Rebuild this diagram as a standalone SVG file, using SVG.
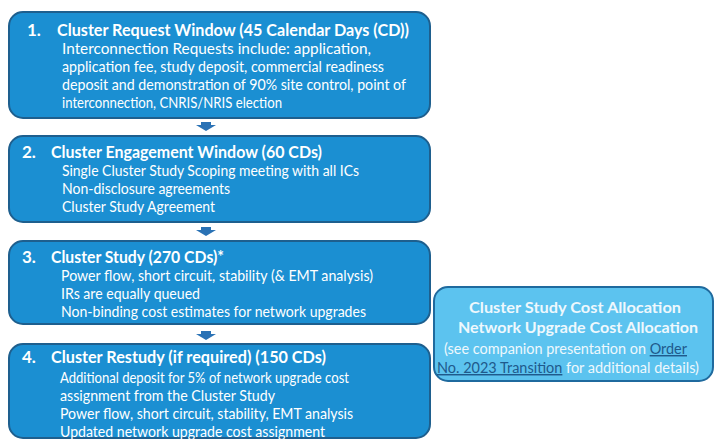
<svg xmlns="http://www.w3.org/2000/svg" width="715" height="440" viewBox="0 0 715 440">
  <style>
    .step { fill: #1b8fd2; stroke: #1e5f8e; stroke-width: 2; }
    .note { fill: #5cc3ef; stroke: #1f6a9e; stroke-width: 2; }
    .arrow { fill: #2a72b5; }
    text { font-family: Lato, "Open Sans", "Liberation Sans", sans-serif; fill: #ffffff; }
    .title { font-size: 17px; font-weight: bold; }
    .body { font-size: 15px; }
    .ntitle { font-size: 16px; font-weight: bold; fill: #eef8fd; }
    .nbody { font-size: 14.5px; fill: #eef8fd; }
    .link { fill: #1f5a8c; text-decoration: underline; }
  </style>

  <!-- connectors between steps -->
  <g id="connectors">
    <polygon class="arrow" points="201,122 211,122 211,125 216,125 206,131 196,125 201,125"/>
    <polygon class="arrow" points="201,227 211,227 211,230 216,230 206,236 196,230 201,230"/>
    <polygon class="arrow" points="201,331 211,331 211,334 216,334 206,340 196,334 201,334"/>
  </g>

  <g id="step1">
    <rect class="step" x="9" y="12" width="421" height="106" rx="14"/>
    <text class="title" x="27" y="36">1.</text>
    <text class="title" x="57" y="36" textLength="352" lengthAdjust="spacingAndGlyphs">Cluster Request Window (45 Calendar Days (CD))</text>
    <text class="body" x="62" y="54" textLength="309" lengthAdjust="spacingAndGlyphs">Interconnection Requests include: application,</text>
    <text class="body" x="62" y="72" textLength="322" lengthAdjust="spacingAndGlyphs">application fee, study deposit, commercial readiness</text>
    <text class="body" x="62" y="90" textLength="344" lengthAdjust="spacingAndGlyphs">deposit and demonstration of 90% site control, point of</text>
    <text class="body" x="62" y="108" textLength="220" lengthAdjust="spacingAndGlyphs">interconnection, CNRIS/NRIS election</text>
  </g>

  <g id="step2">
    <rect class="step" x="9" y="136" width="421" height="86" rx="14"/>
    <text class="title" x="22" y="158">2.</text>
    <text class="title" x="51" y="158" textLength="271" lengthAdjust="spacingAndGlyphs">Cluster Engagement Window (60 CDs)</text>
    <text class="body" x="62" y="176" textLength="297" lengthAdjust="spacingAndGlyphs">Single Cluster Study Scoping meeting with all ICs</text>
    <text class="body" x="62" y="194" textLength="168" lengthAdjust="spacingAndGlyphs">Non-disclosure agreements</text>
    <text class="body" x="62" y="212" textLength="153" lengthAdjust="spacingAndGlyphs">Cluster Study Agreement</text>
  </g>

  <g id="step3">
    <rect class="step" x="9" y="241" width="421" height="83" rx="14"/>
    <text class="title" x="22" y="263">3.</text>
    <text class="title" x="51" y="263" textLength="173" lengthAdjust="spacingAndGlyphs">Cluster Study (270 CDs)*</text>
    <text class="body" x="61" y="281" textLength="312" lengthAdjust="spacingAndGlyphs">Power flow, short circuit, stability (&amp; EMT analysis)</text>
    <text class="body" x="61" y="299" textLength="139" lengthAdjust="spacingAndGlyphs">IRs are equally queued</text>
    <text class="body" x="61" y="317" textLength="305" lengthAdjust="spacingAndGlyphs">Non-binding cost estimates for network upgrades</text>
  </g>

  <g id="step4">
    <rect class="step" x="9" y="344" width="421" height="94" rx="14"/>
    <text class="title" x="22" y="363">4.</text>
    <text class="title" x="51" y="363" textLength="275" lengthAdjust="spacingAndGlyphs">Cluster Restudy (if required) (150 CDs)</text>
    <text class="body" x="60" y="383" textLength="289" lengthAdjust="spacingAndGlyphs">Additional deposit for 5% of network upgrade cost</text>
    <text class="body" x="60" y="401" textLength="215" lengthAdjust="spacingAndGlyphs">assignment from the Cluster Study</text>
    <text class="body" x="60" y="419" textLength="293" lengthAdjust="spacingAndGlyphs">Power flow, short circuit, stability, EMT analysis</text>
    <text class="body" x="60" y="437" textLength="265" lengthAdjust="spacingAndGlyphs">Updated network upgrade cost assignment</text>
  </g>

  <g id="cost-allocation">
    <rect class="note" x="434" y="287" width="279" height="94" rx="14"/>
    <text class="ntitle" x="575" y="313" text-anchor="middle" textLength="212" lengthAdjust="spacingAndGlyphs">Cluster Study Cost Allocation</text>
    <text class="ntitle" x="578" y="333" text-anchor="middle" textLength="240" lengthAdjust="spacingAndGlyphs">Network Upgrade Cost Allocation</text>
    <text class="nbody" x="444" y="354" textLength="243" lengthAdjust="spacingAndGlyphs">(see companion presentation on <tspan class="link">Order</tspan></text>
    <text class="nbody" x="437" y="373" textLength="262" lengthAdjust="spacingAndGlyphs"><tspan class="link">No. 2023 Transition</tspan> for additional details)</text>
  </g>
</svg>
